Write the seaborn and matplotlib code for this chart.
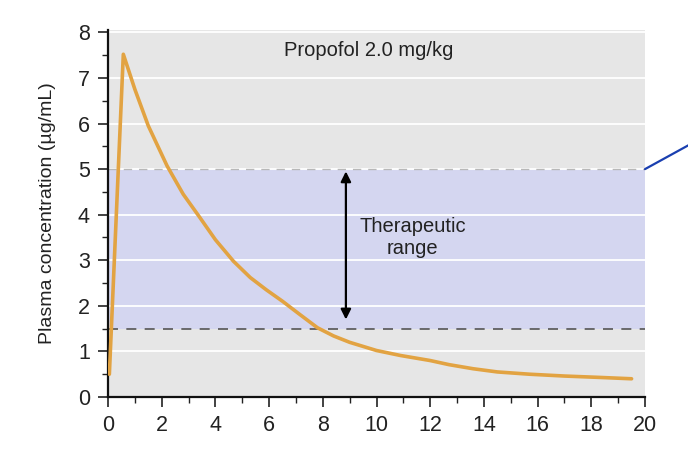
import matplotlib
matplotlib.use("Agg")
import matplotlib.pyplot as plt
import seaborn as sns
import numpy as np
import pandas as pd
from matplotlib.ticker import MultipleLocator
from matplotlib.lines import Line2D

# Data
time_min = [0.05, 0.57, 1.0, 1.5, 2.2, 2.8, 3.43, 4.0, 4.67, 5.3, 5.9, 6.5, 7.1, 7.8, 8.4, 9.0, 10.0, 10.9, 12.0, 12.7, 13.6, 14.5, 15.7, 17.0, 18.3, 19.5]
conc = [0.5, 7.52, 6.75, 5.95, 5.07, 4.45, 3.93, 3.45, 2.98, 2.62, 2.35, 2.1, 1.83, 1.52, 1.34, 1.2, 1.02, 0.91, 0.8, 0.71, 0.62, 0.55, 0.5, 0.46, 0.43, 0.4]
ther_low = 1.5
ther_high = 5.0
title_text = "Propofol 2.0 mg/kg"
range_text = "Therapeutic\nrange"
ylabel = "Plasma concentration (\u00b5g/mL)"

sns.set_theme(style="white")
plt.rcParams['font.family'] = ['Liberation Sans', 'DejaVu Sans']

fig = plt.figure(figsize=(6.88, 4.49), dpi=100)
ax = fig.add_axes([0.157, 0.1158, 0.9375 - 0.157, 0.933 - 0.1158])
ax.set_facecolor('#e6e6e6')

ax.axhspan(ther_low, ther_high, color='#d4d6f0', zorder=0.3, lw=0)
ax.set_axisbelow(True)
ax.yaxis.grid(True, color='white', lw=1.3, zorder=0.5)
ax.xaxis.grid(False)

ax.axhline(ther_high, color='#b8b8b8', lw=1.0, ls=(0, (6, 5)), zorder=1)
ax.axhline(ther_low, color='#555555', lw=1.2, ls=(0, (6, 5)), zorder=1)

df = pd.DataFrame({"t": time_min, "c": conc})
sns.lineplot(data=df, x="t", y="c", ax=ax, color='#e2a342', lw=2.6, zorder=3)

ax.set_xlim(0, 20)
ax.set_ylim(0, 8.05)
ax.xaxis.set_major_locator(MultipleLocator(2))
ax.xaxis.set_minor_locator(MultipleLocator(1))
ax.yaxis.set_major_locator(MultipleLocator(1))
ax.yaxis.set_minor_locator(MultipleLocator(0.5))
ax.tick_params(which='major', direction='out', length=7, width=1.2, color='#222222',
               labelsize=15.5, labelcolor='#222222', bottom=True, left=True, pad=6)
ax.tick_params(which='minor', direction='out', length=4, width=1.0, color='#222222',
               bottom=True, left=True)
for s in ['top', 'right']:
    ax.spines[s].set_visible(False)
for s in ['left', 'bottom']:
    ax.spines[s].set_color('#111111')
    ax.spines[s].set_linewidth(1.6)
ax.set_xlabel("")
ax.set_ylabel(ylabel, fontsize=14, color='#222222', labelpad=16)

ax.text(9.7, 7.6, title_text, ha='center', va='center', fontsize=14.5, color='#222222')
ax.annotate("", xy=(8.86, ther_high - 0.05), xytext=(8.86, ther_low + 0.2),
            arrowprops=dict(arrowstyle='<|-|>', color='black', lw=1.6,
                            mutation_scale=15, shrinkA=0, shrinkB=0), zorder=4)
ax.text(11.35, 3.5, range_text, ha='center', va='center', fontsize=14.5,
        color='#222222', linespacing=1.15)

# blue leader line leaving the chart to the right
ax.add_line(Line2D([20.0, 21.7], [ther_high, ther_high + 0.55], color='#1a3fb0',
                   lw=1.6, clip_on=False, zorder=5))

fig.savefig("out.png", dpi=100)
